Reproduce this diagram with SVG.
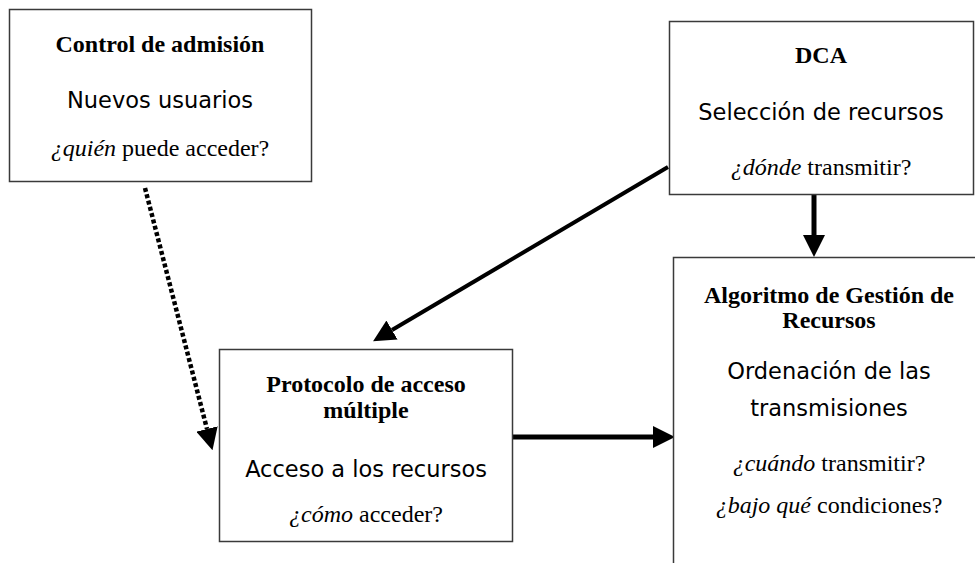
<svg xmlns="http://www.w3.org/2000/svg" width="975" height="563" viewBox="0 0 975 563">
  <style>
    .box { fill: #ffffff; stroke: #3a3a3a; stroke-width: 1.5; }
    .title { font-family: "Liberation Serif", "Times New Roman", serif; font-weight: bold; font-size: 24px; fill: #000; text-anchor: middle; }
    .role { font-family: "DejaVu Sans", "Open Sans", sans-serif; font-size: 22.5px; fill: #000; text-anchor: middle; }
    .question { font-family: "Liberation Serif", "Times New Roman", serif; font-size: 24px; fill: #000; text-anchor: middle; }
    .question .em { font-style: italic; }
    .link { fill: none; stroke: #000; stroke-width: 5; }
    .link.thin { stroke-width: 4; }
    .link.dotted { stroke-width: 4.5; stroke-dasharray: 4 2.5; }
  </style>
  <defs>
    <marker id="head" markerUnits="userSpaceOnUse" markerWidth="22" markerHeight="22" refX="0" refY="11" orient="auto">
      <path d="M0,0 L22,11 L0,22 Z" fill="#000"/>
    </marker>
  </defs>

  <rect width="975" height="563" fill="#ffffff"/>

  <!-- connectors -->
  <g id="connectors">
    <line class="link dotted" x1="145" y1="188" x2="207" y2="429" marker-end="url(#head)"/>
    <line class="link thin" x1="668" y1="167" x2="392" y2="330" marker-end="url(#head)"/>
    <line class="link" x1="508" y1="437" x2="653" y2="437" marker-end="url(#head)"/>
    <line class="link" x1="814" y1="195" x2="814" y2="235" marker-end="url(#head)"/>
  </g>

  <!-- admission control -->
  <g id="admission-control">
    <rect class="box" x="9.5" y="9.5" width="302" height="172"/>
    <text class="title" x="160" y="52">Control de admisión</text>
    <text class="role" x="160" y="108">Nuevos usuarios</text>
    <text class="question" x="160" y="156"><tspan class="em">¿quién</tspan> puede acceder?</text>
  </g>

  <!-- DCA -->
  <g id="dca">
    <rect class="box" x="669.5" y="21.5" width="304" height="173"/>
    <text class="title" x="821" y="63">DCA</text>
    <text class="role" x="821" y="120">Selección de recursos</text>
    <text class="question" x="821" y="175"><tspan class="em">¿dónde</tspan> transmitir?</text>
  </g>

  <!-- multiple access protocol -->
  <g id="multiple-access">
    <rect class="box" x="219.5" y="349.5" width="293" height="192"/>
    <text class="title" x="366" y="392">Protocolo de acceso</text>
    <text class="title" x="366" y="418">múltiple</text>
    <text class="role" x="366" y="477">Acceso a los recursos</text>
    <text class="question" x="366" y="522"><tspan class="em">¿cómo</tspan> acceder?</text>
  </g>

  <!-- resource management algorithm -->
  <g id="resource-management">
    <rect class="box" x="673.5" y="257.5" width="330" height="330"/>
    <text class="title" x="829" y="303">Algoritmo de Gestión de</text>
    <text class="title" x="829" y="328">Recursos</text>
    <text class="role" x="829" y="379">Ordenación de las</text>
    <text class="role" x="829" y="416">transmisiones</text>
    <text class="question" x="829" y="471"><tspan class="em">¿cuándo</tspan> transmitir?</text>
    <text class="question" x="829" y="513"><tspan class="em">¿bajo qué</tspan> condiciones?</text>
  </g>
</svg>
